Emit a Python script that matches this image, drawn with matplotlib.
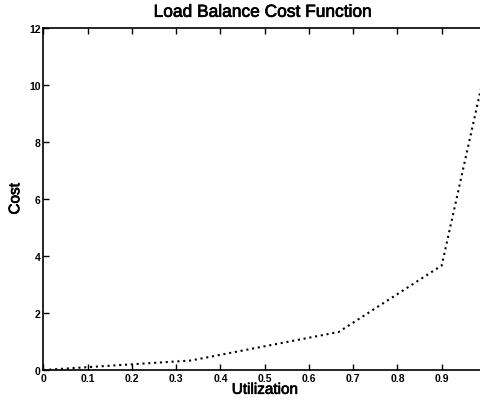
import matplotlib
matplotlib.use("Agg")
import matplotlib.pyplot as plt
import matplotlib.patheffects as pe

# breakpoints of the piecewise-linear load balance cost
utilization = [0.0, 0.333, 0.667, 0.9, 0.99]
cost = [0.0, 0.333, 1.333, 3.667, 9.97]

xticks = [0, 0.1, 0.2, 0.3, 0.4, 0.5, 0.6, 0.7, 0.8, 0.9]
xtick_labels = ["0", "0.1", "0.2", "0.3", "0.4", "0.5", "0.6", "0.7", "0.8", "0.9"]
yticks = [0, 2, 4, 6, 8, 10, 12]

plt.rcParams['font.family'] = ['Liberation Sans', 'DejaVu Sans']

fig = plt.figure(figsize=(4.81, 4.02), dpi=100)
# axis runs 0..1, right edge falls just outside the figure
ax = fig.add_axes([0.0904, 0.0771, 0.92, 0.851])

ax.plot(utilization, cost, color='black', linestyle=(0, (1, 1.8)), linewidth=1.5)

ax.set_xlim(0, 1.0)
ax.set_ylim(0, 12)
ax.set_xticks(xticks)
ax.set_xticklabels(xtick_labels)
ax.set_yticks(yticks)
ax.tick_params(direction='in', top=True, right=False, length=4, width=1,
               labelsize=7.5, pad=2)
for lab in ax.get_xticklabels() + ax.get_yticklabels():
    lab.set_fontweight('bold')
for s in ax.spines.values():
    s.set_linewidth(1.2)

heavy = [pe.withStroke(linewidth=0.5, foreground='black')]
ax.set_xlabel('Utilization', fontsize=11, labelpad=0, path_effects=heavy)
ax.set_ylabel('Cost', fontsize=11, labelpad=5, path_effects=heavy)
fig.text(0.547, 0.967, 'Load Balance Cost Function', ha='center', va='center',
         fontsize=12.5, path_effects=heavy)

fig.savefig('out.png', dpi=100)
